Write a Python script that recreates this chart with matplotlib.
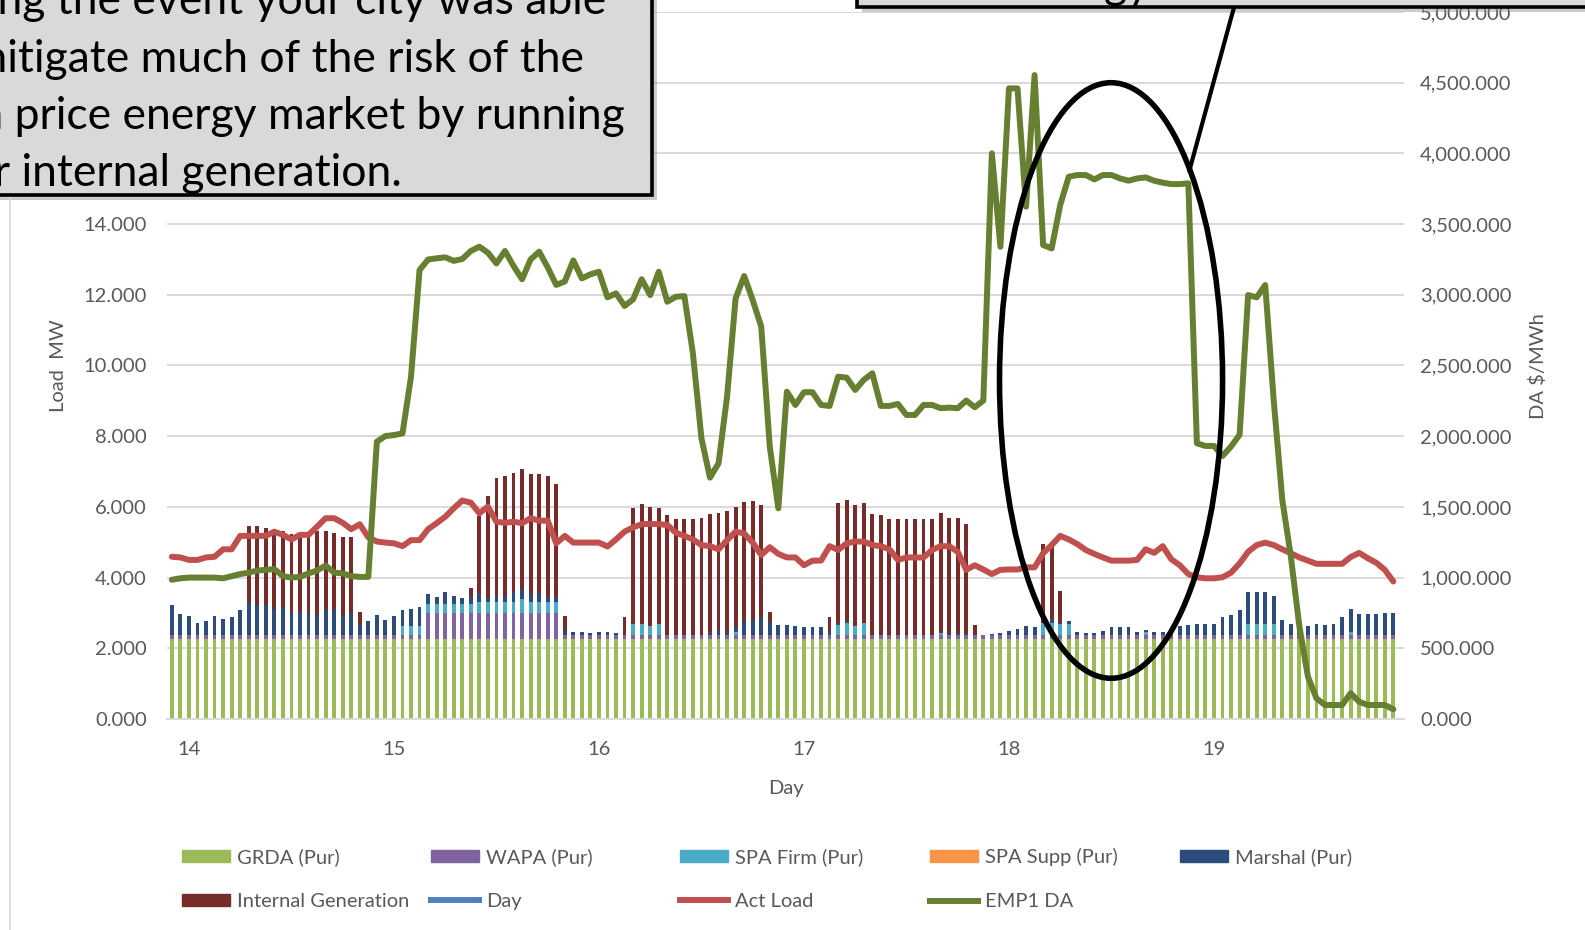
#!/usr/bin/env python3
"""Hourly supply stack against actual load and EMP1 day-ahead price, days 14-19."""

import numpy as np
import matplotlib
matplotlib.use('Agg')
import matplotlib.pyplot as plt
from matplotlib.patches import Ellipse, Rectangle, Patch
from matplotlib.lines import Line2D
from matplotlib.ticker import FuncFormatter

plt.rcParams['font.family'] = ['Lato', 'DejaVu Sans']

W, H = 1585, 930

# ==================== hourly data (144 h, first hour = 22:00 on day 13) ====================
hours = np.arange(144)
day_pos = 13 + (hours + 22) / 24.0

grda = [2.25, 2.25, 2.25, 2.25, 2.25, 2.25, 2.25, 2.25, 2.25, 2.25, 2.25, 2.25,
        2.25, 2.25, 2.25, 2.25, 2.25, 2.25, 2.25, 2.25, 2.25, 2.25, 2.25, 2.25,
        2.25, 2.25, 2.25, 2.25, 2.25, 2.25, 2.25, 2.25, 2.25, 2.25, 2.25, 2.25,
        2.25, 2.25, 2.25, 2.25, 2.25, 2.25, 2.25, 2.25, 2.25, 2.25, 2.25, 2.25,
        2.25, 2.25, 2.25, 2.25, 2.25, 2.25, 2.25, 2.25, 2.25, 2.25, 2.25, 2.25,
        2.25, 2.25, 2.25, 2.25, 2.25, 2.25, 2.25, 2.25, 2.25, 2.25, 2.25, 2.25,
        2.25, 2.25, 2.25, 2.25, 2.25, 2.25, 2.25, 2.25, 2.25, 2.25, 2.25, 2.25,
        2.25, 2.25, 2.25, 2.25, 2.25, 2.25, 2.25, 2.25, 2.25, 2.25, 2.25, 2.25,
        2.25, 2.25, 2.25, 2.25, 2.25, 2.25, 2.25, 2.25, 2.25, 2.25, 2.25, 2.25,
        2.25, 2.25, 2.25, 2.25, 2.25, 2.25, 2.25, 2.25, 2.25, 2.25, 2.25, 2.25,
        2.25, 2.25, 2.25, 2.25, 2.25, 2.25, 2.25, 2.25, 2.25, 2.25, 2.25, 2.25,
        2.25, 2.25, 2.25, 2.25, 2.25, 2.25, 2.25, 2.25, 2.25, 2.25, 2.25, 2.25]

wapa = [0.13, 0.13, 0.13, 0.13, 0.13, 0.13, 0.13, 0.13, 0.13, 0.13, 0.13, 0.13,
        0.13, 0.13, 0.13, 0.13, 0.13, 0.13, 0.13, 0.13, 0.13, 0.13, 0.13, 0.13,
        0.13, 0.13, 0.13, 0.13, 0.13, 0.13, 0.74, 0.74, 0.74, 0.74, 0.74, 0.74,
        0.74, 0.74, 0.74, 0.74, 0.74, 0.74, 0.74, 0.74, 0.74, 0.74, 0.13, 0.13,
        0.13, 0.13, 0.13, 0.13, 0.13, 0.13, 0.13, 0.13, 0.13, 0.13, 0.13, 0.13,
        0.13, 0.13, 0.13, 0.13, 0.13, 0.13, 0.13, 0.13, 0.13, 0.13, 0.13, 0.13,
        0.13, 0.13, 0.13, 0.13, 0.13, 0.13, 0.13, 0.13, 0.13, 0.13, 0.13, 0.13,
        0.13, 0.13, 0.13, 0.13, 0.13, 0.13, 0.13, 0.13, 0.13, 0.13, 0.13, 0.13,
        0.13, 0.13, 0.13, 0.13, 0.13, 0.13, 0.13, 0.13, 0.13, 0.13, 0.13, 0.13,
        0.13, 0.13, 0.13, 0.13, 0.13, 0.13, 0.13, 0.13, 0.13, 0.13, 0.13, 0.13,
        0.13, 0.13, 0.13, 0.13, 0.13, 0.13, 0.13, 0.13, 0.13, 0.13, 0.13, 0.13,
        0.13, 0.13, 0.13, 0.13, 0.13, 0.13, 0.13, 0.13, 0.13, 0.13, 0.13, 0.13]

spa_firm = [0, 0, 0, 0, 0, 0, 0, 0, 0, 0, 0, 0, 0, 0, 0, 0, 0, 0, 0, 0, 0, 0, 0, 0,
            0, 0, 0, 0.26, 0.26, 0.26, 0.25, 0.25, 0.25, 0.25, 0.25, 0.25,
            0.32, 0.32, 0.32, 0.32, 0.32, 0.40, 0.32, 0.32, 0.32, 0.32, 0, 0,
            0, 0, 0, 0, 0, 0, 0.31, 0.31, 0.25, 0.31, 0, 0,
            0, 0, 0, 0, 0, 0, 0.09, 0, 0, 0, 0, 0,
            0, 0, 0, 0, 0, 0, 0.28, 0.33, 0.26, 0.33, 0, 0,
            0, 0, 0, 0, 0, 0, 0.05, 0, 0, 0, 0, 0,
            0, 0, 0, 0, 0, 0, 0.33, 0.33, 0.31, 0.31, 0, 0,
            0, 0, 0, 0, 0, 0, 0.09, 0, 0, 0, 0, 0,
            0, 0, 0, 0, 0, 0, 0.31, 0.31, 0.31, 0.31, 0, 0,
            0, 0, 0, 0, 0, 0, 0.09, 0, 0, 0, 0, 0]

marshal = [0.85, 0.60, 0.54, 0.33, 0.39, 0.54, 0.46, 0.50, 0.71, 0.90, 0.85, 0.85,
           0.74, 0.78, 0.66, 0.66, 0.66, 0.57, 0.71, 0.71, 0.54, 0.61, 0.28, 0.39,
           0.57, 0.42, 0.54, 0.44, 0.47, 0.52, 0.31, 0.22, 0.35, 0.25, 0.18, 0.24,
           0.26, 0.12, 0.17, 0.17, 0.28, 0.30, 0.22, 0.26, 0.15, 0.15, 0.14, 0.07,
           0.07, 0.05, 0.08, 0.07, 0.04, 0, 0, 0, 0, 0, 0, 0,
           0, 0, 0, 0.09, 0.14, 0.08, 0.14, 0.38, 0.42, 0.50, 0.35, 0.28,
           0.28, 0.24, 0.21, 0.21, 0.21, 0.07, 0.05, 0.05, 0, 0, 0, 0,
           0, 0, 0, 0, 0, 0, 0.03, 0.05, 0.05, 0.05, 0, 0,
           0.03, 0.05, 0.11, 0.17, 0.25, 0.22, 0, 0.11, 0.02, 0.07, 0.07, 0.05,
           0.05, 0.10, 0.22, 0.22, 0.22, 0.07, 0.05, 0.07, 0.07, 0.14, 0.25, 0.28,
           0.31, 0.31, 0.31, 0.50, 0.57, 0.69, 0.91, 0.89, 0.89, 0.79, 0.42, 0.31,
           0.29, 0.25, 0.31, 0.29, 0.31, 0.50, 0.64, 0.59, 0.59, 0.59, 0.63, 0.63]

internal_gen = [0, 0, 0, 0, 0, 0, 0, 0, 0, 2.17, 2.22, 2.17,
                2.23, 2.17, 2.20, 2.20, 2.12, 2.36, 2.22, 2.17, 2.22, 2.17, 0.38, 0,
                0, 0, 0, 0, 0, 0, 0, 0, 0, 0, 0, 0.22,
                2.17, 2.88, 3.35, 3.40, 3.38, 3.38, 3.40, 3.37, 3.42, 3.20, 0.40, 0,
                0, 0, 0, 0, 0, 0.50, 3.27, 3.39, 3.37, 3.29, 3.38, 3.27,
                3.27, 3.27, 3.31, 3.33, 3.32, 3.43, 3.39, 3.39, 3.38, 3.16, 0.31, 0,
                0, 0, 0, 0, 0, 0.43, 3.39, 3.44, 3.42, 3.40, 3.42, 3.38,
                3.27, 3.27, 3.27, 3.27, 3.27, 3.27, 3.38, 3.26, 3.26, 3.08, 0.28, 0,
                0, 0, 0, 0, 0, 0, 2.23, 2.20, 0.90, 0, 0, 0,
                0, 0, 0, 0, 0, 0, 0, 0, 0, 0, 0, 0,
                0, 0, 0, 0, 0, 0, 0, 0, 0, 0, 0, 0,
                0, 0, 0, 0, 0, 0, 0, 0, 0, 0, 0, 0]

act_load = [4.59, 4.57, 4.50, 4.50, 4.57, 4.59, 4.80, 4.80, 5.18, 5.18, 5.18, 5.18,
            5.30, 5.21, 5.08, 5.21, 5.21, 5.44, 5.68, 5.68, 5.55, 5.37, 5.51, 5.14,
            5.02, 4.99, 4.97, 4.89, 5.06, 5.06, 5.37, 5.54, 5.72, 5.96, 6.18, 6.12,
            5.82, 6.01, 5.58, 5.55, 5.58, 5.54, 5.68, 5.61, 5.61, 4.97, 5.18, 4.99,
            4.99, 4.99, 4.99, 4.88, 5.08, 5.30, 5.42, 5.51, 5.52, 5.51, 5.49, 5.27,
            5.18, 5.08, 4.92, 4.89, 4.80, 5.06, 5.30, 5.25, 4.99, 4.64, 4.86, 4.67,
            4.57, 4.57, 4.35, 4.48, 4.48, 4.89, 4.78, 4.97, 5.02, 5.02, 4.92, 4.89,
            4.80, 4.50, 4.57, 4.57, 4.57, 4.78, 4.89, 4.89, 4.73, 4.22, 4.35, 4.23,
            4.10, 4.22, 4.23, 4.23, 4.29, 4.29, 4.69, 4.92, 5.18, 5.08, 4.95, 4.78,
            4.67, 4.57, 4.48, 4.48, 4.48, 4.50, 4.80, 4.70, 4.89, 4.52, 4.35, 4.10,
            4.01, 3.98, 3.98, 4.01, 4.14, 4.40, 4.73, 4.92, 4.99, 4.92, 4.80, 4.69,
            4.57, 4.48, 4.39, 4.39, 4.39, 4.39, 4.58, 4.70, 4.55, 4.42, 4.22, 3.89]

emp1_da = [985, 995, 1000, 1000, 1000, 1000, 995, 1010, 1025, 1035, 1050, 1055,
           1060, 1010, 1000, 1005, 1030, 1050, 1085, 1035, 1030, 1010, 1005, 1005,
           1961, 2001, 2008, 2020, 2421, 3175, 3250, 3258, 3265, 3240, 3253, 3310,
           3340, 3298, 3222, 3310, 3204, 3110, 3250, 3305, 3194, 3070, 3094, 3243,
           3116, 3145, 3163, 2982, 3010, 2921, 2968, 3110, 2998, 3163, 2951, 2986,
           2991, 2586, 1985, 1707, 1808, 2280, 2975, 3133, 2963, 2775, 1926, 1490,
           2315, 2221, 2311, 2311, 2221, 2214, 2421, 2414, 2327, 2398, 2445, 2214,
           2214, 2228, 2150, 2150, 2221, 2221, 2198, 2202, 2198, 2252, 2205, 2252,
           4000, 3340, 4460, 4460, 3623, 4554, 3352, 3328, 3635, 3835, 3847, 3847,
           3816, 3847, 3847, 3823, 3807, 3823, 3830, 3807, 3793, 3783, 3783, 3788,
           1950, 1931, 1931, 1860, 1927, 2010, 2998, 2982, 3069, 2250, 1550, 1150,
           655, 300, 146, 99, 99, 99, 182, 122, 99, 99, 99, 69]

day_ticks = [14, 15, 16, 17, 18, 19]

note_lines = ['During the event your city was able',
              'to mitigate much of the risk of the',
              'high price energy market by running',
              'their internal generation.']

# ==================== colours ====================
c_grda, c_wapa, c_spaf, c_spas = '#9bbb59', '#8064a2', '#4bacc6', '#f79646'
c_marsh, c_ig, c_day = '#2c4d7b', '#772c2a', '#4f81bd'
c_load, c_price = '#c0504d', '#667f30'
grey_txt, grid_col = '#595959', '#d9d9d9'
FS = 14.5
LW = 4.3


def px(x, y):
    """pixel position (from top-left) -> figure fraction"""
    return x / W, 1 - y / H


fig = plt.figure(figsize=(W / 100, H / 100), dpi=100)
ax = fig.add_axes([167 / W, 1 - 719 / H, (1404 - 167) / W, (719 - 12) / H])
ax.set_xlim(13.893, 19.927)
ax.set_ylim(0, 20)

# stacked hourly supply
bw = 0.45 / 24
stack = [(grda, c_grda), (wapa, c_wapa), (spa_firm, c_spaf), (marshal, c_marsh),
         (internal_gen, c_ig)]
bottom = np.zeros(len(hours))
for vals, col in stack:
    vals = np.asarray(vals, dtype=float)
    ax.bar(day_pos, vals, width=bw, bottom=bottom, color=col, linewidth=0, zorder=2)
    bottom += vals

ax.plot(day_pos, act_load, color=c_load, lw=LW, solid_joinstyle='round',
        solid_capstyle='round', zorder=3)

ax.set_yticks(np.arange(0, 21, 2))
ax.yaxis.set_major_formatter(FuncFormatter(lambda v, p: f'{v:.3f}'))
ax.set_xticks(day_ticks)
ax.set_xticklabels([str(d) for d in day_ticks])
ax.grid(axis='y', color=grid_col, lw=1.4, zorder=0)
ax.set_axisbelow(True)
for s in ['top', 'left', 'right']:
    ax.spines[s].set_visible(False)
ax.spines['bottom'].set_color(grid_col)
ax.spines['bottom'].set_linewidth(1.4)
ax.tick_params(axis='y', length=0, pad=14.4, labelsize=FS, labelcolor=grey_txt)
ax.tick_params(axis='x', length=0, pad=16, labelsize=FS, labelcolor=grey_txt)
ax.set_xlabel('Day', fontsize=FS, color=grey_txt, labelpad=16)

# price on secondary axis
ax2 = ax.twinx()
ax2.set_ylim(0, 5000)
ax2.plot(day_pos, emp1_da, color=c_price, lw=LW, solid_joinstyle='round',
         solid_capstyle='round', zorder=3)
ax2.set_yticks(np.arange(0, 5001, 500))
ax2.yaxis.set_major_formatter(FuncFormatter(lambda v, p: f'{v:,.3f}'))
ax2.tick_params(axis='y', length=0, pad=11.5, labelsize=FS, labelcolor=grey_txt)
for s in ax2.spines.values():
    s.set_visible(False)

# highlight around the day-18 price plateau
ax2.add_patch(Ellipse((18.498, 2394), 1.088, 4212, fill=False, ec='black',
                      lw=4.0, zorder=6))

fig.text(*px(58, 366), 'Load  MW', rotation=90, ha='center', va='center',
         fontsize=FS, color=grey_txt)
fig.text(*px(1538, 366), 'DA \\$/MWh', rotation=90, ha='center', va='center',
         fontsize=FS, color=grey_txt)

# legend: five fixed-width columns
cols = [
    [(Patch(color=c_grda), 'GRDA (Pur)'), (Patch(color=c_ig), 'Internal Generation')],
    [(Patch(color=c_wapa), 'WAPA (Pur)'), (Line2D([], [], color=c_day, lw=LW), 'Day')],
    [(Patch(color=c_spaf), 'SPA Firm (Pur)'), (Line2D([], [], color=c_load, lw=LW), 'Act Load')],
    [(Patch(color=c_spas), 'SPA Supp (Pur)'), (Line2D([], [], color=c_price, lw=LW), 'EMP1 DA')],
    [(Patch(color=c_marsh), 'Marshal (Pur)')],
]
col_x = [182, 431, 680, 930, 1180]
for items, x0 in zip(cols, col_x):
    leg = fig.legend([h for h, _ in items], [l for _, l in items], loc='upper left',
                     bbox_to_anchor=px(x0, 848), frameon=False, borderpad=0,
                     borderaxespad=0, handlelength=2.4, handleheight=0.55,
                     handletextpad=0.35, labelspacing=1.35, fontsize=FS)
    for t in leg.get_texts():
        t.set_color(grey_txt)

# ==================== callout boxes (pixel overlay) ====================
ov = fig.add_axes([0, 0, 1, 1], zorder=10)
ov.set_xlim(0, W)
ov.set_ylim(H, 0)
ov.axis('off')

# chart-area border on the left
ov.plot([10, 10], [195, H], color=grid_col, lw=1.2)

# leader from the ellipse to the upper note
ov.plot([1189, 1236], [172, 0], color='black', lw=3.0, solid_capstyle='butt')

for (x0, y0, x1, y1) in [(-30, -30, 652, 195), (857, -60, W + 30, 7)]:
    ov.add_patch(Rectangle((x0 + 5, y0 + 5), x1 - x0, y1 - y0, fc='#8c8c8c',
                           ec='none', alpha=0.45, zorder=1))
    ov.add_patch(Rectangle((x0, y0), x1 - x0, y1 - y0, fc='#d9d9d9',
                           ec='black', lw=2.6, zorder=2))

for txt, xr, yb in zip(note_lines, [606, 584, 625, 402], [14, 71.5, 129, 186.5]):
    ov.text(xr, yb, txt, ha='right', va='baseline', fontsize=32, color='black',
            zorder=3)
ov.text(1150, -2, 'energy', ha='right', va='baseline', fontsize=32,
        color='black', zorder=3)

fig.savefig('out.png', dpi=100)
